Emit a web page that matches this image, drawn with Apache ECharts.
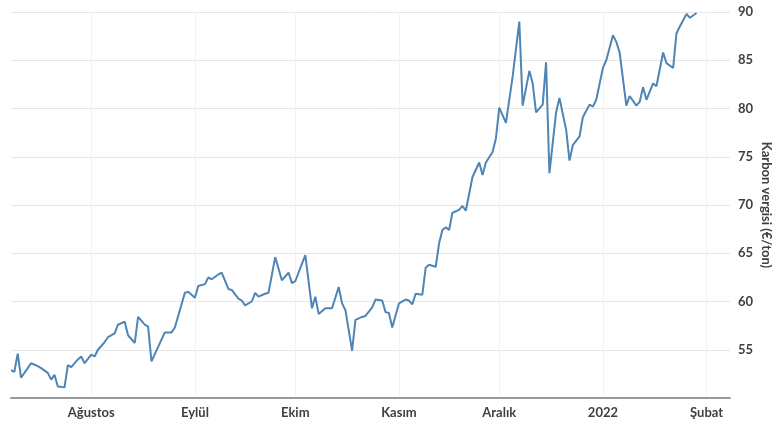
<!DOCTYPE html>
<html>
<head>
<meta charset="utf-8">
<script src="https://cdn.jsdelivr.net/npm/echarts@6/dist/echarts.min.js"></script>
<style>
html, body { margin: 0; padding: 0; background: #fff; }
#main { width: 772px; height: 425px; }
</style>
</head>
<body>
<div id="main"></div>
<script>
// tarih (işlem günü) ve karbon fiyatı (€/ton)
var dates = [
    "2021-07-08","2021-07-09","2021-07-10","2021-07-11","2021-07-13","2021-07-14","2021-07-16","2021-07-17","2021-07-19","2021-07-20",
    "2021-07-21","2021-07-22","2021-07-24","2021-07-25","2021-07-26","2021-07-28","2021-07-29","2021-07-30",
    "2021-08-01","2021-08-02","2021-08-03","2021-08-05","2021-08-06","2021-08-08","2021-08-09","2021-08-11","2021-08-12","2021-08-14",
    "2021-08-15","2021-08-17","2021-08-18","2021-08-19","2021-08-21","2021-08-23","2021-08-25","2021-08-26","2021-08-29","2021-08-30",
    "2021-09-01","2021-09-02","2021-09-04","2021-09-05","2021-09-06","2021-09-08","2021-09-09","2021-09-11","2021-09-12","2021-09-14",
    "2021-09-15","2021-09-16","2021-09-18","2021-09-19","2021-09-20","2021-09-22","2021-09-23","2021-09-25","2021-09-27","2021-09-29","2021-09-30",
    "2021-10-01","2021-10-04","2021-10-06","2021-10-07","2021-10-08","2021-10-10","2021-10-12","2021-10-14","2021-10-15","2021-10-16",
    "2021-10-18","2021-10-19","2021-10-21","2021-10-22","2021-10-24","2021-10-25","2021-10-27","2021-10-28","2021-10-29","2021-10-30",
    "2021-11-01","2021-11-03","2021-11-04","2021-11-05","2021-11-06","2021-11-08","2021-11-09","2021-11-10","2021-11-12","2021-11-13",
    "2021-11-14","2021-11-15","2021-11-16","2021-11-17","2021-11-19","2021-11-20","2021-11-21","2021-11-23","2021-11-25","2021-11-26",
    "2021-11-27","2021-11-29","2021-11-30",
    "2021-12-01","2021-12-03","2021-12-05","2021-12-07","2021-12-08","2021-12-10","2021-12-11","2021-12-12","2021-12-14","2021-12-15",
    "2021-12-16","2021-12-18","2021-12-19","2021-12-21","2021-12-22","2021-12-23","2021-12-25","2021-12-26","2021-12-28","2021-12-29","2021-12-30",
    "2022-01-01","2022-01-02","2022-01-04","2022-01-05","2022-01-06","2022-01-08","2022-01-09","2022-01-11","2022-01-12","2022-01-13",
    "2022-01-14","2022-01-16","2022-01-17","2022-01-19","2022-01-20","2022-01-22","2022-01-23","2022-01-24","2022-01-26","2022-01-27","2022-01-29"
];
var prices = [
    52.9, 52.7, 54.6, 52.1, 53.1, 53.6, 53.3, 53.1, 52.6, 51.9,
    52.4, 51.2, 51.1, 53.4, 53.2, 54.0, 54.3, 53.6,
    54.5, 54.3, 55.0, 55.8, 56.3, 56.7, 57.6, 57.9, 56.5, 55.7,
    58.4, 57.6, 57.4, 53.8, 55.3, 56.8, 56.8, 57.3, 60.9, 61.0,
    60.4, 61.6, 61.8, 62.5, 62.3, 62.8, 63.0, 61.3, 61.2, 60.3,
    60.1, 59.6, 60.0, 60.9, 60.5, 60.8, 60.9, 64.6, 62.2, 63.0, 61.9,
    62.1, 64.8, 59.3, 60.5, 58.7, 59.3, 59.3, 61.5, 59.8, 59.1,
    54.9, 58.1, 58.4, 58.5, 59.4, 60.2, 60.1, 58.9, 58.8, 57.3,
    59.8, 60.2, 60.1, 59.7, 60.8, 60.7, 63.5, 63.8, 63.6, 66.0,
    67.4, 67.7, 67.4, 69.2, 69.5, 69.9, 69.4, 72.9, 74.4, 73.1,
    74.4, 75.5, 76.9,
    80.1, 78.5, 83.3, 89.0, 80.3, 83.9, 82.6, 79.6, 80.4, 84.8,
    73.3, 79.6, 81.1, 77.8, 74.6, 76.2, 77.1, 79.1, 80.4, 80.2, 80.9,
    84.2, 85.0, 87.6, 86.9, 85.8, 80.3, 81.3, 80.3, 80.7, 82.2,
    80.9, 82.6, 82.3, 85.8, 84.7, 84.2, 87.8, 88.5, 89.8, 89.4, 89.9
];
// eksen etiketleri (ay başları)
var monthStarts = ["2021-08-01","2021-09-01","2021-10-01","2021-11-01","2021-12-01","2022-01-01","2022-02-01"];
var monthLabels = ["Ağustos","Eylül","Ekim","Kasım","Aralık","2022","Şubat"];
var yTicks = [55, 60, 65, 70, 75, 80, 85, 90];

// 2021-07-01'den itibaren gün sayısı
function dayOf(s) {
    var p = s.split("-");
    return Math.round((Date.UTC(+p[0], +p[1] - 1, +p[2]) - Date.UTC(2021, 6, 1)) / 86400000);
}

var seriesData = dates.map(function (d, i) { return [dayOf(d), prices[i]]; });
var labelDays = monthStarts.map(dayOf);
var labelMap = {};
labelDays.forEach(function (d, i) { labelMap[d] = monthLabels[i]; });

var txtColor = "#404040";
var chart = echarts.init(document.getElementById("main"));
chart.setOption({
    animation: false,
    backgroundColor: "#fff",
    // eksen adı kenardan taşsa da ızgara küçülmesin
    grid: { left: 11, right: 42, top: 12, bottom: 27, containLabel: false, outerBoundsMode: "none" },
    xAxis: {
        type: "value",
        min: dayOf("2021-07-08"),
        max: dayOf("2022-02-08"),
        axisLine: { show: true, onZero: false, lineStyle: { color: "#9a9a9a", width: 2 } },
        axisTick: { show: false, customValues: labelDays },
        splitLine: { show: true, lineStyle: { color: "#f2f2f2", width: 1 } },
        axisLabel: {
            customValues: labelDays,
            margin: 8,
            color: txtColor,
            fontFamily: "Lato",
            fontWeight: "bold",
            fontSize: 13,
            formatter: function (v) { return labelMap[v] || ""; }
        }
    },
    yAxis: {
        type: "value",
        position: "right",
        min: 50,
        max: 90,
        interval: 5,
        name: "Karbon vergisi (€/ton)",
        nameLocation: "middle",
        nameRotate: -90,
        nameGap: 30,
        nameMoveOverlap: false,
        nameTextStyle: { color: txtColor, fontFamily: "Lato", fontWeight: "bold", fontSize: 13 },
        axisLine: { show: false },
        axisTick: { show: false },
        splitLine: { lineStyle: { color: "#e6e6e6", width: 1 } },
        axisLabel: {
            margin: 8,
            color: txtColor,
            fontFamily: "Lato",
            fontWeight: "bold",
            fontSize: 13,
            formatter: function (v) { return yTicks.indexOf(v) >= 0 ? String(v) : ""; }
        }
    },
    series: [{
        type: "line",
        data: seriesData,
        symbol: "none",
        lineStyle: { color: "#4f84b6", width: 2 }
    }]
});
</script>
</body>
</html>
